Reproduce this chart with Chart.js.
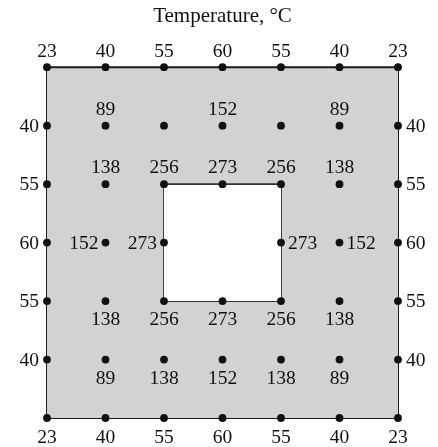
<!DOCTYPE html>
<html>
<head>
<meta charset="utf-8">
<script src="https://cdn.jsdelivr.net/npm/chart.js@4"></script>
<style>
  html, body { margin: 0; padding: 0; background: #fff; }
  #wrap { width: 438px; height: 447px; position: relative; }
</style>
</head>
<body>
<div id="wrap"><canvas id="plate"></canvas></div>
<script>
// node temperatures, read row by row (row 0 = top edge, row 6 = bottom edge)
const topEdge = [23, 40, 55, 60, 55, 40, 23];
const bottomEdge = [23, 40, 55, 60, 55, 40, 23];
const leftEdge = [40, 55, 60, 55, 40];   // rows 1..5
const rightEdge = [40, 55, 60, 55, 40];  // rows 1..5
const row1 = [89, null, 152, null, 89];  // cols 1..5
const row2 = [138, 256, 273, 256, 138];  // cols 1..5
const row3Left = [152, 273];             // cols 1, 2
const row3Right = [273, 152];            // cols 4, 5
const row4 = [138, 256, 273, 256, 138];  // cols 1..5
const row5 = [89, 138, 152, 138, 89];    // cols 1..5

const FONT = "'Liberation Serif', 'Times New Roman', serif";

function pts(row, cols, vals) {
  return vals.map((v, i) => ({ x: cols[i], y: row, t: v }));
}
function colPts(col, rows, vals) {
  return vals.map((v, i) => ({ x: col, y: rows[i], t: v }));
}

const nodeStyle = {
  type: "scatter",
  pointRadius: 3.9,
  pointBackgroundColor: "#111",
  pointBorderWidth: 0,
  showLine: false,
  order: 0
};

const labelGroups = [
  { data: pts(0, [0, 1, 2, 3, 4, 5, 6], topEdge), pos: "above", off: 16 },
  { data: pts(6, [0, 1, 2, 3, 4, 5, 6], bottomEdge), pos: "below", off: 19 },
  { data: colPts(0, [1, 2, 3, 4, 5], leftEdge), pos: "left", off: 8 },
  { data: colPts(6, [1, 2, 3, 4, 5], rightEdge), pos: "right", off: 8 },
  { data: pts(1, [1, 2, 3, 4, 5], row1), pos: "above", off: 17 },
  { data: pts(2, [1, 2, 3, 4, 5], row2), pos: "above", off: 17 },
  { data: pts(3, [1, 2], row3Left), pos: "left", off: 7 },
  { data: pts(3, [4, 5], row3Right), pos: "right", off: 7 },
  { data: pts(4, [1, 2, 3, 4, 5], row4), pos: "below", off: 18 },
  { data: pts(5, [1, 2, 3, 4, 5], row5), pos: "below", off: 18 }
];

const shapeSets = [
  // inner hole (white), drawn above the plate
  { type: "line", data: [{ x: 2, y: 2 }, { x: 4, y: 2 }], borderColor: "#333", borderWidth: 1.8,
    pointRadius: 0, fill: 2, backgroundColor: "#fff", order: 1 },
  { type: "line", data: [{ x: 2, y: 2 }, { x: 2, y: 4 }, { x: 4, y: 4 }, { x: 4, y: 2 }],
    borderColor: "#333", borderWidth: 1.8, pointRadius: 0, fill: false, order: 1 },
  { type: "line", data: [{ x: 2, y: 4 }, { x: 4, y: 4 }], borderWidth: 0, borderColor: "transparent",
    pointRadius: 0, fill: false, order: 1 },
  // outer plate (gray)
  { type: "line", data: [{ x: 0, y: 0 }, { x: 6, y: 0 }], borderColor: "#1a1a1a", borderWidth: 2,
    pointRadius: 0, fill: 5, backgroundColor: "#d1d2d4", order: 2 },
  { type: "line", data: [{ x: 0, y: 0 }, { x: 0, y: 6 }, { x: 6, y: 6 }, { x: 6, y: 0 }],
    borderColor: "#1a1a1a", borderWidth: 2, pointRadius: 0, fill: false, order: 2 },
  { type: "line", data: [{ x: 0, y: 6 }, { x: 6, y: 6 }], borderWidth: 0, borderColor: "transparent",
    pointRadius: 0, fill: false, order: 2 }
];

const nodeSets = labelGroups.map(g => Object.assign({}, nodeStyle, { data: g.data, labelPos: g.pos, labelOff: g.off }));

const nodeLabels = {
  id: "nodeLabels",
  afterDatasetsDraw(chart) {
    const ctx = chart.ctx;
    ctx.save();
    ctx.fillStyle = "#111";
    ctx.font = "19.5px " + FONT;
    ctx.textBaseline = "middle";
    chart.data.datasets.forEach((ds, di) => {
      if (!ds.labelPos) return;
      const meta = chart.getDatasetMeta(di);
      meta.data.forEach((el, i) => {
        const t = ds.data[i].t;
        if (t === null) return;
        let x = el.x, y = el.y;
        if (ds.labelPos === "above") { ctx.textAlign = "center"; y -= ds.labelOff; }
        if (ds.labelPos === "below") { ctx.textAlign = "center"; y += ds.labelOff; }
        if (ds.labelPos === "left") { ctx.textAlign = "right"; x -= ds.labelOff; }
        if (ds.labelPos === "right") { ctx.textAlign = "left"; x += ds.labelOff; }
        ctx.fillText(String(t), x, y + 1);
      });
    });
    ctx.restore();
  }
};

new Chart(document.getElementById("plate"), {
  data: { datasets: shapeSets.concat(nodeSets) },
  options: {
    responsive: true,
    maintainAspectRatio: false,
    animation: false,
    clip: false,
    layout: { padding: { left: 47, right: 40, top: 0, bottom: 29 } },
    scales: {
      x: { type: "linear", min: 0, max: 6, display: false },
      y: { type: "linear", min: 0, max: 6, reverse: true, display: false }
    },
    plugins: {
      legend: { display: false },
      tooltip: { enabled: false },
      filler: { propagate: false },
      title: {
        display: true,
        text: "Temperature, °C",
        color: "#111",
        font: { family: FONT, size: 21, weight: "normal" },
        padding: { top: 4, bottom: 38 },
        fullSize: true
      }
    }
  },
  plugins: [nodeLabels]
});
</script>
</body>
</html>
